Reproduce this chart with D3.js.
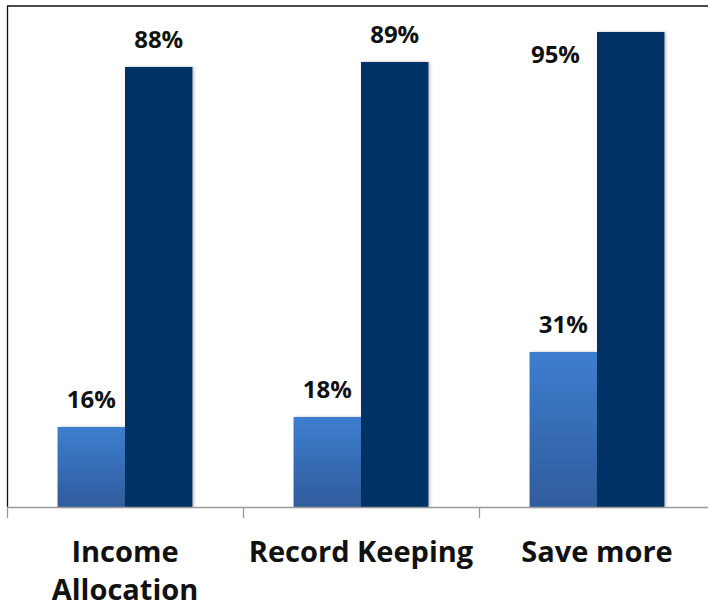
<!DOCTYPE html>
<html>
<head>
<meta charset="utf-8">
<script src="https://cdn.jsdelivr.net/npm/d3@7"></script>
<style>
  html, body { margin: 0; padding: 0; background: #fff; }
  svg { display: block; }
</style>
</head>
<body>
<svg id="chart" width="708" height="606"></svg>
<script>
(function () {
  "use strict";

  // Data.
  const categories = ["Income Allocation", "Record Keeping", "Save more"];
  const categoryLines = [["Income", "Allocation"], ["Record Keeping"], ["Save more"]];
  const seriesNames = ["before", "after"];
  const beforeValues = [16, 18, 31];
  const afterValues = [88, 89, 95];
  const yDomain = [0, 100];

  const W = 708, H = 606;
  const plot = { left: 7, right: 715, top: 7, bottom: 507 };
  const font = "'Open Sans', 'Liberation Sans', sans-serif";

  const svg = d3.select("#chart");

  const x0 = d3.scaleBand().domain(categories)
    .range([plot.left, plot.right]).paddingInner(0).paddingOuter(0);
  // two bars take ~57% of each category, centred
  const x1 = d3.scaleBand().domain(seriesNames)
    .range([0, x0.bandwidth()]).paddingOuter(0.75).paddingInner(0);
  const y = d3.scaleLinear().domain(yDomain).range([plot.bottom, plot.top]);

  const defs = svg.append("defs");
  const grad = defs.append("linearGradient").attr("id", "lightGrad")
    .attr("x1", 0).attr("y1", 0).attr("x2", 0).attr("y2", 1);
  grad.append("stop").attr("offset", "0%").attr("stop-color", "#3d7ecf");
  grad.append("stop").attr("offset", "100%").attr("stop-color", "#2f5c9c");
  const shadow = defs.append("filter").attr("id", "shadow")
    .attr("x", "-10%").attr("y", "-10%").attr("width", "130%").attr("height", "120%");
  shadow.append("feDropShadow").attr("dx", 1.5).attr("dy", 0).attr("stdDeviation", 1.5)
    .attr("flood-color", "#000").attr("flood-opacity", 0.25);

  const fills = { before: "url(#lightGrad)", after: "#003366" };

  // Frame lines: top and left edge of the plot area
  svg.append("line").attr("x1", plot.left).attr("x2", W).attr("y1", 6).attr("y2", 6)
    .attr("stroke", "#111").attr("stroke-width", 1.6);
  svg.append("line").attr("x1", plot.left + 0.5).attr("x2", plot.left + 0.5)
    .attr("y1", 6).attr("y2", plot.bottom)
    .attr("stroke", "#111").attr("stroke-width", 1.3);

  const rows = categories.map((c, i) => ({
    cat: c,
    bars: [
      { key: "before", value: beforeValues[i] },
      { key: "after", value: afterValues[i] }
    ]
  }));

  const groups = svg.selectAll(".grp").data(rows).enter().append("g")
    .attr("class", "grp")
    .attr("transform", d => `translate(${x0(d.cat)},0)`);

  groups.selectAll("rect").data(d => d.bars).enter().append("rect")
    .attr("x", d => x1(d.key))
    .attr("y", d => y(d.value))
    .attr("width", x1.bandwidth())
    .attr("height", d => y(0) - y(d.value))
    .attr("fill", d => fills[d.key])
    .attr("filter", "url(#shadow)");

  // Value labels: above bar, or left of bar when there is no room above
  groups.selectAll("text.val").data(d => d.bars).enter().append("text")
    .attr("class", "val")
    .each(function (d) {
      const t = d3.select(this);
      const top = y(d.value);
      const fits = top - 19 - 18 >= plot.top;
      if (fits) {
        t.attr("x", x1(d.key) + x1.bandwidth() / 2).attr("y", top - 19)
          .attr("text-anchor", "middle");
      } else {
        t.attr("x", x1(d.key) - 17).attr("y", top + 31)
          .attr("text-anchor", "end");
      }
    })
    .attr("font-family", font).attr("font-weight", 700).attr("font-size", 24)
    .attr("fill", "#111")
    .text(d => d.value + "%");

  // X axis
  const axis = svg.append("g").attr("transform", `translate(0,${plot.bottom})`)
    .call(d3.axisBottom(x0).tickSize(11).tickFormat(""));
  axis.select(".domain").attr("stroke", "#9a9a9a").attr("stroke-width", 1.5)
    .attr("d", `M${plot.left},0.5H${W}`);
  axis.selectAll(".tick").remove();
  const tickXs = d3.range(categories.length + 1).map(i => plot.left + i * x0.bandwidth());
  axis.selectAll("line.tk").data(tickXs).enter().append("line")
    .attr("class", "tk")
    .attr("x1", d => d + 0.5).attr("x2", d => d + 0.5)
    .attr("y1", 0).attr("y2", 11)
    .attr("stroke", "#9a9a9a").attr("stroke-width", 1.3);

  // Category labels
  categories.forEach((c, i) => {
    const cx = x0(c) + x0.bandwidth() / 2;
    const t = svg.append("text")
      .attr("x", cx).attr("y", 562)
      .attr("text-anchor", "middle")
      .attr("font-family", font).attr("font-weight", 700).attr("font-size", 29)
      .attr("fill", "#111");
    categoryLines[i].forEach((ln, j) => {
      t.append("tspan").attr("x", cx).attr("dy", j === 0 ? 0 : 38).text(ln);
    });
  });
})();
</script>
</body>
</html>
